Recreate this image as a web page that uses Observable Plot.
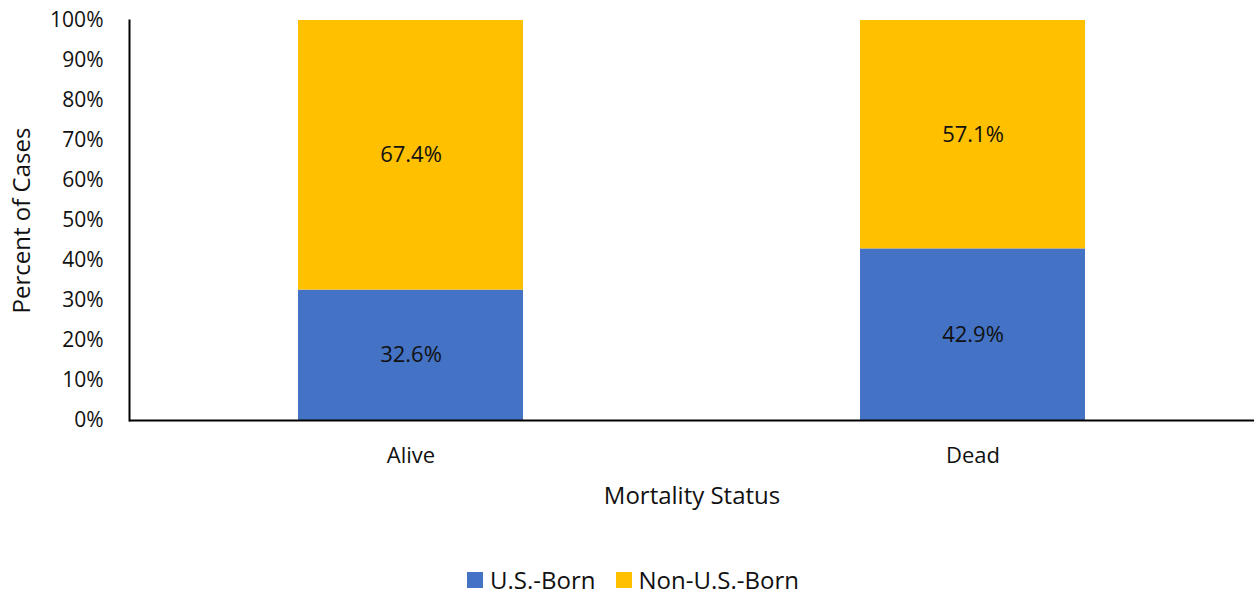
<!DOCTYPE html>
<html>
<head>
<meta charset="utf-8">
<script src="https://cdn.jsdelivr.net/npm/d3@7"></script>
<script src="https://cdn.jsdelivr.net/npm/@observablehq/plot@0.6"></script>
<style>
  html, body { margin: 0; padding: 0; background: #fff; }
  body { width: 1254px; height: 594px; overflow: hidden; position: relative; font-family: "Open Sans", "Noto Sans", sans-serif; }
  #legend { position: absolute; left: 0; width: 1254px; top: 563px; height: 34px; display: flex; justify-content: center; align-items: center; gap: 20px; font-size: 24px; line-height: 34px; color: #111; padding-left: 12px; box-sizing: border-box; }
  #legend span.item { display: flex; align-items: center; gap: 7px; }
  #legend span.sw { width: 16px; height: 16px; display: inline-block; }
</style>
</head>
<body>
<div id="chart"></div>
<div id="legend"></div>
<script>
const categories = ["Alive", "Dead"];
const seriesNames = ["U.S.-Born", "Non-U.S.-Born"];
const usBorn = [32.6, 42.9];
const nonUsBorn = [67.4, 57.1];
const yTicks = [0, 10, 20, 30, 40, 50, 60, 70, 80, 90, 100];
const colors = ["#4472C4", "#FFC000"];

const data = [];
categories.forEach((c, i) => {
  data.push({status: c, series: seriesNames[0], value: usBorn[i]});
  data.push({status: c, series: seriesNames[1], value: nonUsBorn[i]});
});

const chart = Plot.plot({
  width: 1254,
  height: 520,
  marginTop: 20,
  marginBottom: 100,
  marginLeft: 129,
  marginRight: 0,
  style: {fontFamily: "'Open Sans', 'Noto Sans', sans-serif", fontSize: "22px", color: "#111", background: "#fff"},
  x: {domain: categories, paddingInner: 0.6, paddingOuter: 0.3, label: null},
  y: {domain: [0, 100], ticks: yTicks, label: null},
  color: {domain: seriesNames, range: colors},
  marks: [
    Plot.barY(data, Plot.stackY({x: "status", y: "value", fill: "series"})),
    Plot.text(data, Plot.stackY({x: "status", y: "value", text: d => d.value.toFixed(1) + "%", fill: "#111", fontSize: 22})),
    Plot.axisY({ticks: yTicks, tickSize: 0, tickPadding: 26, tickFormat: d => d + "%", label: null, fontSize: 21, fill: "#111"}),
    Plot.axisX({tickSize: 0, tickPadding: 27, label: null, fontSize: 22, fill: "#111"}),
    Plot.frame({anchor: "left", stroke: "#000", strokeWidth: 2}),
    Plot.ruleY([0], {stroke: "#000", strokeWidth: 2}),
    Plot.text(["Percent of Cases"], {frameAnchor: "left", textAnchor: "middle", dx: -107, rotate: -90, fontSize: 24, fill: "#111"}),
    Plot.text(["Mortality Status"], {frameAnchor: "bottom", dy: 83, fontSize: 24, fill: "#111"})
  ]
});
document.getElementById("chart").appendChild(chart);

const legend = document.getElementById("legend");
seriesNames.forEach((s, i) => {
  const item = document.createElement("span");
  item.className = "item";
  const sw = document.createElement("span");
  sw.className = "sw";
  sw.style.background = colors[i];
  item.appendChild(sw);
  item.appendChild(document.createTextNode(s));
  legend.appendChild(item);
});
</script>
</body>
</html>
